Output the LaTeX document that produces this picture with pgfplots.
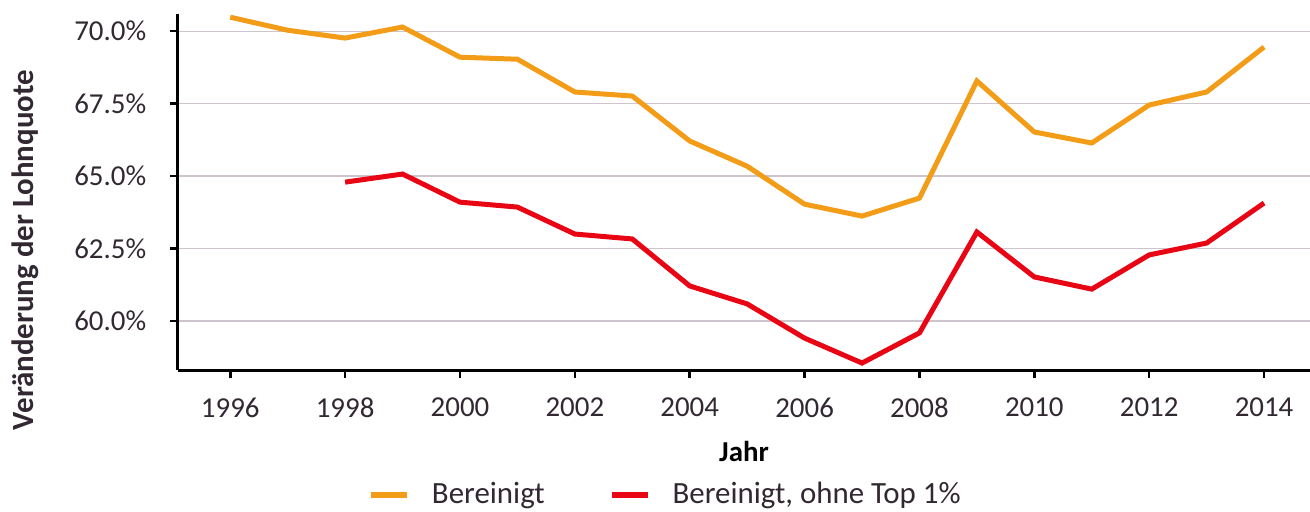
\documentclass[border=0pt]{standalone}
\usepackage{fontspec}
\setmainfont{Carlito}
\usepackage{pgfplots}
\pgfplotsset{compat=1.18}
\definecolor{orangeL}{RGB}{243,156,24}
\definecolor{redL}{RGB}{232,6,20}
\definecolor{gridc}{RGB}{205,196,206}
\definecolor{txt}{RGB}{50,40,50}
\begin{document}
\fontsize{29}{34}\selectfont
\begin{tikzpicture}[x=1bp,y=1bp]
\begin{axis}[
  scale only axis, width=1132bp, height=356bp,
  xmin=1995.09, xmax=2014.8, ymin=58.31, ymax=70.59,
  axis x line*=bottom, axis y line*=left,
  axis line style={line width=3bp, black, -},
  xtick={1996,1998,...,2014},
  ytick={60,62.5,65,67.5,70},
  ymajorgrids, grid style={gridc, line width=1.2bp},
  tick style={black, line width=2.5bp},
  major tick length=8bp,
  tick align=outside,
  x tick label style={/pgf/number format/set thousands separator={}, text=txt, yshift=-10bp},
  y tick label style={/pgf/number format/.cd, fixed, fixed zerofill, precision=1, /tikz/.cd, text=txt, xshift=-14bp},
  yticklabel={\pgfmathprintnumber{\tick}\%},
  /pgf/number format/assume math mode=true,
  xlabel={\bfseries Jahr}, xlabel style={yshift=-4bp},
  legend style={draw=none, at={(0.165,-0.351)}, anchor=west, legend columns=2, /tikz/every even column/.append style={column sep=62bp}, text=txt, font=\fontsize{31}{36}\selectfont},
  legend image code/.code={\draw[#1, line width=6bp] (0bp,0bp) -- (36bp,0bp);},
  legend cell align=left,
  clip=false,
]
\addplot[orangeL, line width=5bp] coordinates {
(1996,70.48) (1997,70.03) (1998,69.76) (1999,70.14) (2000,69.10) (2001,69.03)
(2002,67.90) (2003,67.76) (2004,66.21) (2005,65.34) (2006,64.03) (2007,63.62)
(2008,64.24) (2009,68.28) (2010,66.52) (2011,66.14) (2012,67.45) (2013,67.90) (2014,69.45)};
\addlegendentry{\hspace{20bp}Bereinigt}
\addplot[redL, line width=5bp] coordinates {
(1998,64.79) (1999,65.07) (2000,64.10) (2001,63.93) (2002,63.00) (2003,62.83)
(2004,61.21) (2005,60.59) (2006,59.41) (2007,58.55) (2008,59.59) (2009,63.07)
(2010,61.52) (2011,61.10) (2012,62.28) (2013,62.69) (2014,64.07)};
\addlegendentry{\hspace{20bp}Bereinigt, ohne Top 1\%}
\node[rotate=90, anchor=center, font=\fontsize{31}{36}\selectfont\bfseries, text=txt] at (rel axis cs:-0.135,0.337) {Veränderung der Lohnquote};
\coordinate (bl) at (rel axis cs:-0.15724,-0.39607);
\coordinate (tr) at (rel axis cs:1,1.03933);
\end{axis}
\pgfresetboundingbox
\path (bl) rectangle (tr);
\end{tikzpicture}
\end{document}
